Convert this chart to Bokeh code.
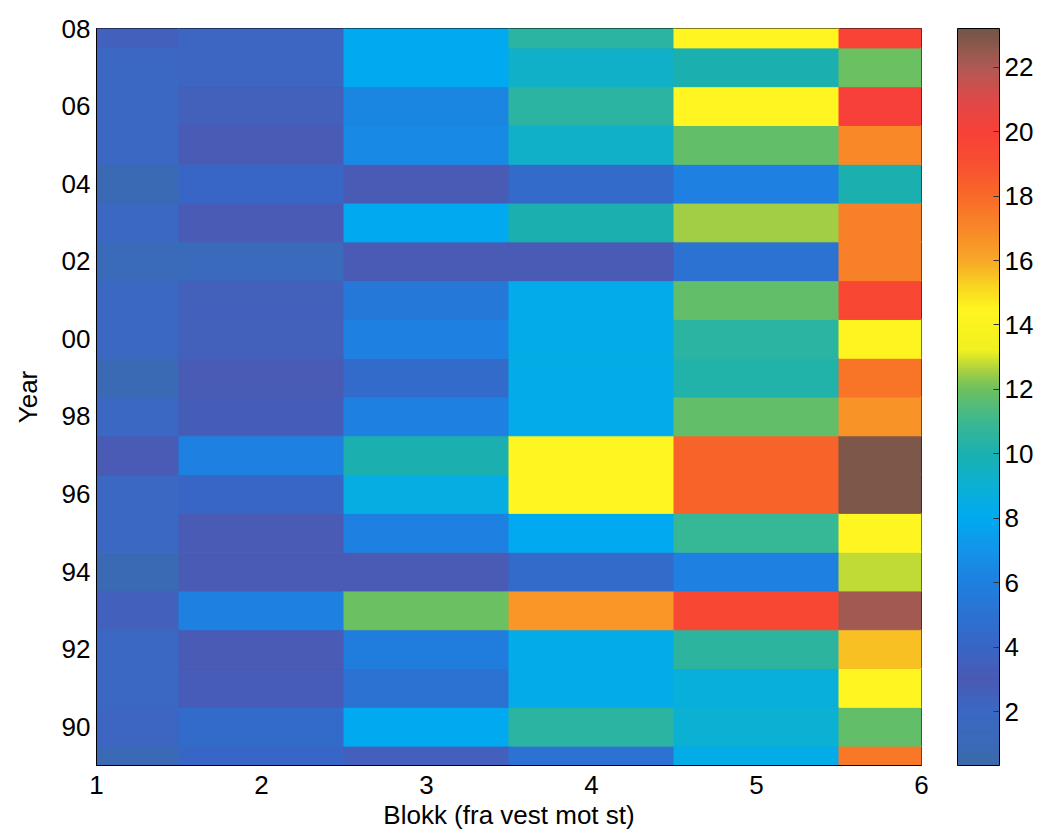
from bokeh.plotting import figure
from bokeh.models import (LinearColorMapper, ColorBar, FixedTicker, Range1d,
                          ColumnDataSource)
from bokeh.transform import transform
from bokeh.embed import file_html
from bokeh.resources import INLINE

# ---------------- data ----------------
years = list(range(1989, 2009))
blocks = [1, 2, 3, 4, 5, 6]
x_ticks = [1, 2, 3, 4, 5, 6]
y_ticks = [1990, 1992, 1994, 1996, 1998, 2000, 2002, 2004, 2006, 2008]
y_tick_labels = ["90", "92", "94", "96", "98", "00", "02", "04", "06", "08"]
cbar_ticks = [2, 4, 6, 8, 10, 12, 14, 16, 18, 20, 22]

# values per block, years 1989 .. 2008
block1 = [0.9, 2.2, 2.0, 2.0, 2.5, 0.8, 2.0, 2.0, 3.0, 2.0,
          0.8, 2.0, 2.0, 1.2, 2.0, 0.8, 2.0, 2.0, 2.0, 2.5]
block2 = [4.0, 4.5, 3.2, 3.0, 6.0, 3.0, 3.0, 4.0, 6.0, 2.8,
          3.0, 2.6, 2.6, 1.3, 3.0, 4.0, 3.0, 2.6, 2.2, 2.2]
block3 = [3.5, 8.0, 5.0, 5.8, 12.0, 3.0, 6.0, 8.5, 10.0, 6.0,
          4.5, 6.0, 5.5, 3.0, 8.0, 3.0, 6.5, 6.3, 8.0, 8.0]
block4 = [5.0, 10.5, 8.3, 8.3, 16.5, 4.5, 8.0, 14.5, 14.5, 8.2,
          8.3, 8.3, 8.2, 3.0, 10.0, 4.5, 9.3, 10.5, 9.3, 10.5]
block5 = [8.3, 9.0, 8.8, 10.6, 19.5, 6.0, 10.8, 18.2, 18.2, 11.8,
          10.2, 10.5, 11.8, 5.0, 12.5, 6.0, 11.8, 14.5, 10.0, 14.5]
block6 = [17.5, 11.8, 14.5, 15.6, 22.3, 12.8, 14.5, 23.0, 23.0, 16.6,
          17.6, 14.3, 19.5, 17.3, 17.3, 10.0, 17.0, 20.0, 12.0, 19.8]
blocks_values = [block1, block2, block3, block4, block5, block6]
c_low, c_high = 0.33, 23.2

# ---------------- colormap (style) ----------------
stops = [(0.33, "#3a6aa8"), (1.0, "#3a6ab8"), (2.0, "#3a68c4"), (3.0, "#4a5ab4"),
         (4.0, "#3866c6"), (5.0, "#2c72d2"), (6.0, "#1e80e0"), (7.0, "#1394ea"),
         (8.0, "#00aaf0"), (9.0, "#0cb0d4"), (10.0, "#1ab0b0"), (11.0, "#3cb890"),
         (12.0, "#6cc060"), (12.6, "#a8d040"), (13.2, "#f0f020"), (14.5, "#fff520"),
         (15.3, "#f8d020"), (16.0, "#f8a828"), (17.0, "#f88828"), (18.0, "#f86a28"),
         (19.0, "#f85030"), (20.0, "#f84038"), (21.0, "#e04848"), (22.0, "#b05a54"),
         (23.2, "#745648")]


def hex2rgb(h):
    return tuple(int(h[i:i + 2], 16) for i in (1, 3, 5))


N = 256
palette = []
for k in range(N):
    v = c_low + (c_high - c_low) * k / (N - 1)
    for (v0, h0), (v1, h1) in zip(stops[:-1], stops[1:]):
        if v0 <= v <= v1:
            t = (v - v0) / (v1 - v0) if v1 > v0 else 0
            a, b = hex2rgb(h0), hex2rgb(h1)
            rgb = [round(a[i] + (b[i] - a[i]) * t) for i in range(3)]
            palette.append("#%02x%02x%02x" % tuple(rgb))
            break

mapper = LinearColorMapper(palette=palette, low=c_low, high=c_high)

xs, ys, vals = [], [], []
for b, col in zip(blocks, blocks_values):
    for yr, v in zip(years, col):
        xs.append(b)
        ys.append(yr)
        vals.append(v)
src = ColumnDataSource(dict(x=xs, y=ys, val=vals))

FONT = "Liberation Sans"
FS = "26px"

p = figure(frame_width=825, frame_height=737,
           x_range=Range1d(1, 6), y_range=Range1d(1989, 2008),
           output_backend="svg", toolbar_location=None,
           min_border_left=96, min_border_top=28, min_border_bottom=60,
           min_border_right=10)

p.rect(x="x", y="y", width=1, height=1, source=src,
       fill_color=transform("val", mapper),
       line_color=transform("val", mapper), line_width=1)

p.grid.visible = False
p.outline_line_color = "black"
p.outline_line_width = 1

p.xaxis.ticker = FixedTicker(ticks=x_ticks)
p.yaxis.ticker = FixedTicker(ticks=y_ticks)
p.yaxis.major_label_overrides = {t: l for t, l in zip(y_ticks, y_tick_labels)}
p.xaxis.axis_label = "Blokk (fra vest mot st)"
p.yaxis.axis_label = "Year"
for ax in (p.xaxis[0], p.yaxis[0]):
    ax.axis_line_color = "black"
    ax.major_tick_in = 0
    ax.major_tick_out = 0
    ax.minor_tick_line_color = None
    ax.major_label_text_font = FONT
    ax.major_label_text_font_size = FS
    ax.major_label_text_color = "black"
    ax.axis_label_text_font = FONT
    ax.axis_label_text_font_size = FS
    ax.axis_label_text_font_style = "normal"
    ax.axis_label_text_color = "black"
    ax.major_label_standoff = 6
p.xaxis.major_label_standoff = 10
p.xaxis.axis_label_standoff = 3
p.yaxis.axis_label_standoff = 16

cb = ColorBar(color_mapper=mapper, width=42, height=737,
              location=(36, 0), padding=0, margin=0,
              ticker=FixedTicker(ticks=cbar_ticks),
              major_tick_in=6, major_tick_out=0,
              major_tick_line_color="#333333",
              minor_tick_line_color=None,
              bar_line_color="black", bar_line_width=1,
              border_line_color=None, background_fill_color=None,
              major_label_text_font=FONT,
              major_label_text_font_size=FS,
              major_label_text_color="black",
              label_standoff=5)
p.add_layout(cb, "right")

open("out.html", "w").write(file_html(p, INLINE))
